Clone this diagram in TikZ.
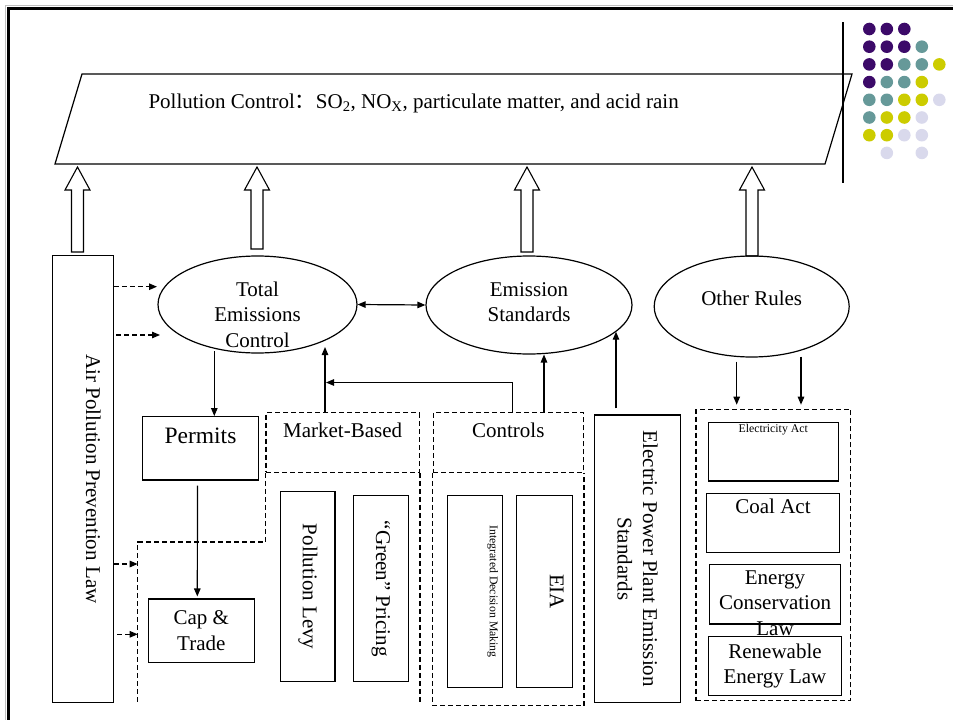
\documentclass[tikz,border=0pt]{standalone}
\usepackage{fontspec}
\setmainfont{Liberation Serif}
\newfontfamily\cjk{Noto Sans CJK SC}
\usetikzlibrary{arrows.meta, shapes.geometric, calc, positioning}

\definecolor{dotP}{RGB}{60,10,105}
\definecolor{dotT}{RGB}{102,153,153}
\definecolor{dotY}{RGB}{204,204,0}
\definecolor{dotL}{RGB}{217,217,236}
\definecolor{dotN}{RGB}{255,255,255}

\NewDocumentCommand{\LiftArrow}{m m}{
    \draw[line width=1.1pt, fill=white] (#1-6,#2) -- (#1-6,190) -- (#1-12.5,190)
        -- (#1,167) -- (#1+12.5,190) -- (#1+6,190) -- (#1+6,#2) -- cycle;
}
\newcommand{\DotPanel}{
    \draw[line width=1.5pt] (843,22) -- (843,183);
    \foreach \shades [count=\dotrow from 0] in {{P,P,P,N,N},{P,P,P,T,N},{P,P,T,T,Y},{P,T,T,Y,N},{T,T,Y,Y,L},{T,Y,Y,L,N},{Y,Y,L,L,N},{N,L,N,L,N}}{
        \foreach \tone [count=\dotcol from 0] in \shades
            \fill[fill=dot\tone] (869.3+17.5*\dotcol, 29+17.7*\dotrow) circle (6.3);
    }
}

\begin{document}
\begin{tikzpicture}[x=1pt, y=-1pt, font=\fontsize{21}{25.5}\selectfont,
    lawbox/.style={draw, line width=1.2pt, inner sep=0pt},
    dashbox/.style={lawbox, dash pattern=on 5pt off 3pt},
    bubble/.style={lawbox, ellipse},
    vtext/.style={rotate=-90},
    smalltext/.style={font=\fontsize{11.8}{13}\selectfont},
    arr/.style={line width=1.2pt, -{Triangle[length=8pt, width=6.5pt]}},
    dbl/.style={arr, {Triangle[length=8pt, width=6.5pt]}-{Triangle[length=8pt, width=6.5pt]}},
    darr/.style={arr, dash pattern=on 5pt off 3pt},
    dashline/.style={line width=1.2pt, dash pattern=on 5pt off 3pt}]
\useasboundingbox (0,0) rectangle (953,720);

% slide frame and dots
\draw[gray!50, line width=1.2pt] (5.8,720) -- (5.8,5.8) -- (953,5.8);
\draw[line width=3pt] (8.5,720) -- (8.5,8.5) -- (953,8.5);
\DotPanel

% goal
\coordinate (goal-sw) at (55,164);
\coordinate (goal-nw) at (82,74);
\coordinate (goal-ne) at (852,74);
\coordinate (goal-se) at (825,164);
\draw[line width=1.2pt] (goal-sw) -- (goal-nw) -- (goal-ne) -- (goal-se) -- cycle;
\node[anchor=base west] (goal-text) at (145,108)
    {Pollution Control{\cjk ：}SO\textsubscript{2}, NO\textsubscript{X}, particulate matter, and acid rain};

\LiftArrow{77.5}{252}
\LiftArrow{257}{249}
\LiftArrow{527}{252}
\LiftArrow{752}{256}

% policies
\node[bubble, minimum width=199pt, minimum height=97pt,
      label={[align=center, yshift=-10pt]center:Total\\Emissions\\Control}] (total-ctrl) at (257.5,304.5) {};
\node[bubble, minimum width=206pt, minimum height=98pt,
      label={[align=center, yshift=3pt]center:Emission\\Standards}] (emis-std) at (529,305) {};
\node[bubble, minimum width=195pt, minimum height=101pt,
      label={[anchor=base, yshift=8.5pt]center:Other Rules}] (other-rules) at (751.7,306.5) {};

% laws
\node[lawbox, minimum width=61pt, minimum height=447pt,
      label={[vtext, anchor=north, inner sep=13pt]east:Air Pollution Prevention Law}] (air-law) at (82.8,479) {};
\node[lawbox, minimum width=115.6pt, minimum height=63.3pt,
      label={[anchor=north, inner sep=11.5pt, font=\fontsize{23.5}{27}\selectfont]north:Permits}] (permits) at (200.5,448.3) {};
\node[lawbox, minimum width=106pt, minimum height=63.3pt, align=center] (cap-trade) at (201.3,630.7) {Cap \&\\Trade};

\node[dashbox, minimum width=153.3pt, minimum height=59.6pt,
      label={[anchor=north, inner sep=11pt]north:Market-Based}] (market-head) at (342.65,442.5) {};
\coordinate (market-leg) at (137.7,542);
\coordinate (market-foot) at (137.7,703.3);
\draw[dashline] (market-head.south west) |- (market-leg) -- (market-foot);
\draw[dashline] (market-head.south east) -- ++(0,231);
\node[lawbox, minimum width=54.3pt, minimum height=190pt,
      label={[vtext]center:Pollution Levy}] (levy) at (307.85,586.7) {};
\node[lawbox, minimum width=55pt, minimum height=186pt,
      label={[vtext]center:“Green” Pricing}] (green) at (380.8,588.7) {};

\node[dashbox, minimum width=150pt, minimum height=59.6pt,
      label={[anchor=north, inner sep=11pt]north:Controls}] (controls-head) at (508.3,442.5) {};
\draw[dashline] (controls-head.south west) -- ++(0,232.7) -| (controls-head.south east);
\node[lawbox, minimum width=55.4pt, minimum height=191.6pt,
      label={[vtext, smalltext, anchor=north, inner sep=5pt]east:Integrated Decision Making}] (idm) at (475,591.5) {};
\node[lawbox, minimum width=55.6pt, minimum height=191.6pt,
      label={[vtext, anchor=north, inner sep=9pt]east:EIA}] (eia) at (544.5,591.5) {};

\node[lawbox, minimum width=86.4pt, minimum height=287.7pt,
      label={[vtext, align=center]center:Electric Power Plant Emission\\Standards}] (power-std) at (637.5,558.85) {};

\node[dashbox, minimum width=154.7pt, minimum height=291.4pt] (other-box) at (773.35,555) {};
\node[lawbox, minimum width=130pt, minimum height=58.7pt,
      label={[smalltext, anchor=north, inner sep=2pt]north:Electricity Act}] (elec-act) at (773.3,451.65) {};
\node[lawbox, minimum width=132.6pt, minimum height=59pt,
      label={[anchor=north, inner sep=5.7pt]north:Coal Act}] (coal-act) at (773,522.8) {};
\node[lawbox, minimum width=131.4pt, minimum height=59.7pt,
      label={[anchor=north, inner sep=6.7pt, align=center]north:Energy\\Conservation\\Law}] (energy-law) at (775,594.15) {};
\node[lawbox, minimum width=133.4pt, minimum height=59pt, align=center] (renew-law) at (775,666.2) {Renewable\\Energy Law};

% links
\draw[dbl] (total-ctrl.east) -- (emis-std.west);

\coordinate (total-out) at (214.3,351);
\draw[arr] (total-out) -- (total-out |- permits.north);
\draw[arr] ([shift={(-3,5)}]permits.south) -- ([shift={(-4,-2)}]cap-trade.north);

\coordinate (total-in) at (325,347);
\draw[arr] (market-head.north -| total-in) -- (total-in);
\coordinate (junction) at (512.7,382.5);
\draw[arr, shorten >=1pt] (controls-head.north -| junction) -- (junction) -- (junction -| total-in);

\coordinate (emis-in) at (544,354.5);
\draw[arr] (controls-head.north -| emis-in) -- (emis-in);
\coordinate (emis-side) at (616,331.7);
\draw[arr] ($(power-std.north -| emis-side)+(0,-6)$) -- (emis-side);

\coordinate (other-out-a) at (736.7,361.7);
\coordinate (other-out-b) at (801,356.7);
\draw[arr, shorten >=4pt] (other-out-a) -- (other-out-a |- other-box.north);
\draw[arr, shorten >=4pt] (other-out-b) -- (other-out-b |- other-box.north);

\coordinate (total-dash-a) at (157,286.7);
\coordinate (total-dash-b) at (160,335);
\coordinate (market-dash-a) at (137.7,564);
\coordinate (market-dash-b) at (137.7,634.3);
\draw[darr] (total-dash-a -| air-law.east) -- (total-dash-a);
\draw[darr, shorten <=2.5pt] (total-dash-b -| air-law.east) -- (total-dash-b);
\draw[darr] (market-dash-a -| air-law.east) -- (market-dash-a);
\draw[darr, shorten <=3.5pt] (market-dash-b -| air-law.east) -- (market-dash-b);

\end{tikzpicture}
\end{document}
